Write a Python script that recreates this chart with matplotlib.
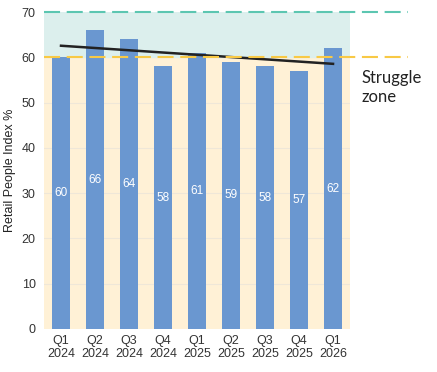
import numpy as np
import matplotlib
matplotlib.use("Agg")
from matplotlib import pyplot as plt

# data
quarters = ["Q1\n2024", "Q2\n2024", "Q3\n2024", "Q4\n2024", "Q1\n2025",
            "Q2\n2025", "Q3\n2025", "Q4\n2025", "Q1\n2026"]
index_values = [60, 66, 64, 58, 61, 59, 58, 57, 62]
struggle_line = 60
top_line = 70

bar_color = "#6a97d0"
teal_fill = "#dcefed"
yellow_fill = "#fff1d6"
teal_dash = "#5cc6b1"
yellow_dash = "#f8c945"
text_color = "#333333"

plt.rcParams["font.family"] = ["Liberation Sans", "DejaVu Sans"]

fig = plt.figure(figsize=(4.37, 3.72), dpi=100)
ax = fig.add_axes([0.1007, 0.1156, 0.7003, 0.8521])

x = np.arange(len(quarters))

# zones
ax.axhspan(0, struggle_line, color=yellow_fill, zorder=0)
ax.axhspan(struggle_line, top_line, color=teal_fill, zorder=0)
for v in range(10, 60, 10):
    ax.axhline(v, color="#efe7d8", lw=0.8, zorder=1)

ax.bar(x, index_values, width=0.54, color=bar_color, zorder=2)
for xi, v in zip(x, index_values):
    ax.text(xi, v / 2, str(v), color="white", ha="center", va="center",
            fontsize=8.5, zorder=4)

# trend line (least squares fit of the values)
slope, intercept = np.polyfit(x, index_values, 1)
ax.plot(x, slope * x + intercept, color="#222222", lw=1.8, zorder=3)

# dashed reference lines, running past the plot area
ax.plot([-0.5, 10.2], [top_line, top_line], ls=(0, (7.7, 3.2)), color=teal_dash,
        lw=1.5, clip_on=False, zorder=3)
ax.plot([-0.5, 10.2], [struggle_line, struggle_line], ls=(0, (7.7, 3.2)),
        color=yellow_dash, lw=1.5, clip_on=False, zorder=3)

ax.text(8.85, 53.4, "Struggle\nzone", fontsize=12, family=["Lato", "DejaVu Sans"],
        color="#222222", ha="left", va="center", linespacing=1.25)

ax.set_xlim(-0.5, 8.5)
ax.set_ylim(0, 70)
ax.set_yticks(range(0, 71, 10))
ax.set_xticks(x)
ax.set_xticklabels(quarters, fontsize=9, color=text_color)
ax.tick_params(axis="y", labelsize=9, labelcolor=text_color, length=0, pad=6)
ax.tick_params(axis="x", length=0, pad=4)
ax.set_ylabel("Retail People Index %", fontsize=9, color="#222222", labelpad=4)
for s in ax.spines.values():
    s.set_visible(False)

fig.savefig("out.png", dpi=100)
